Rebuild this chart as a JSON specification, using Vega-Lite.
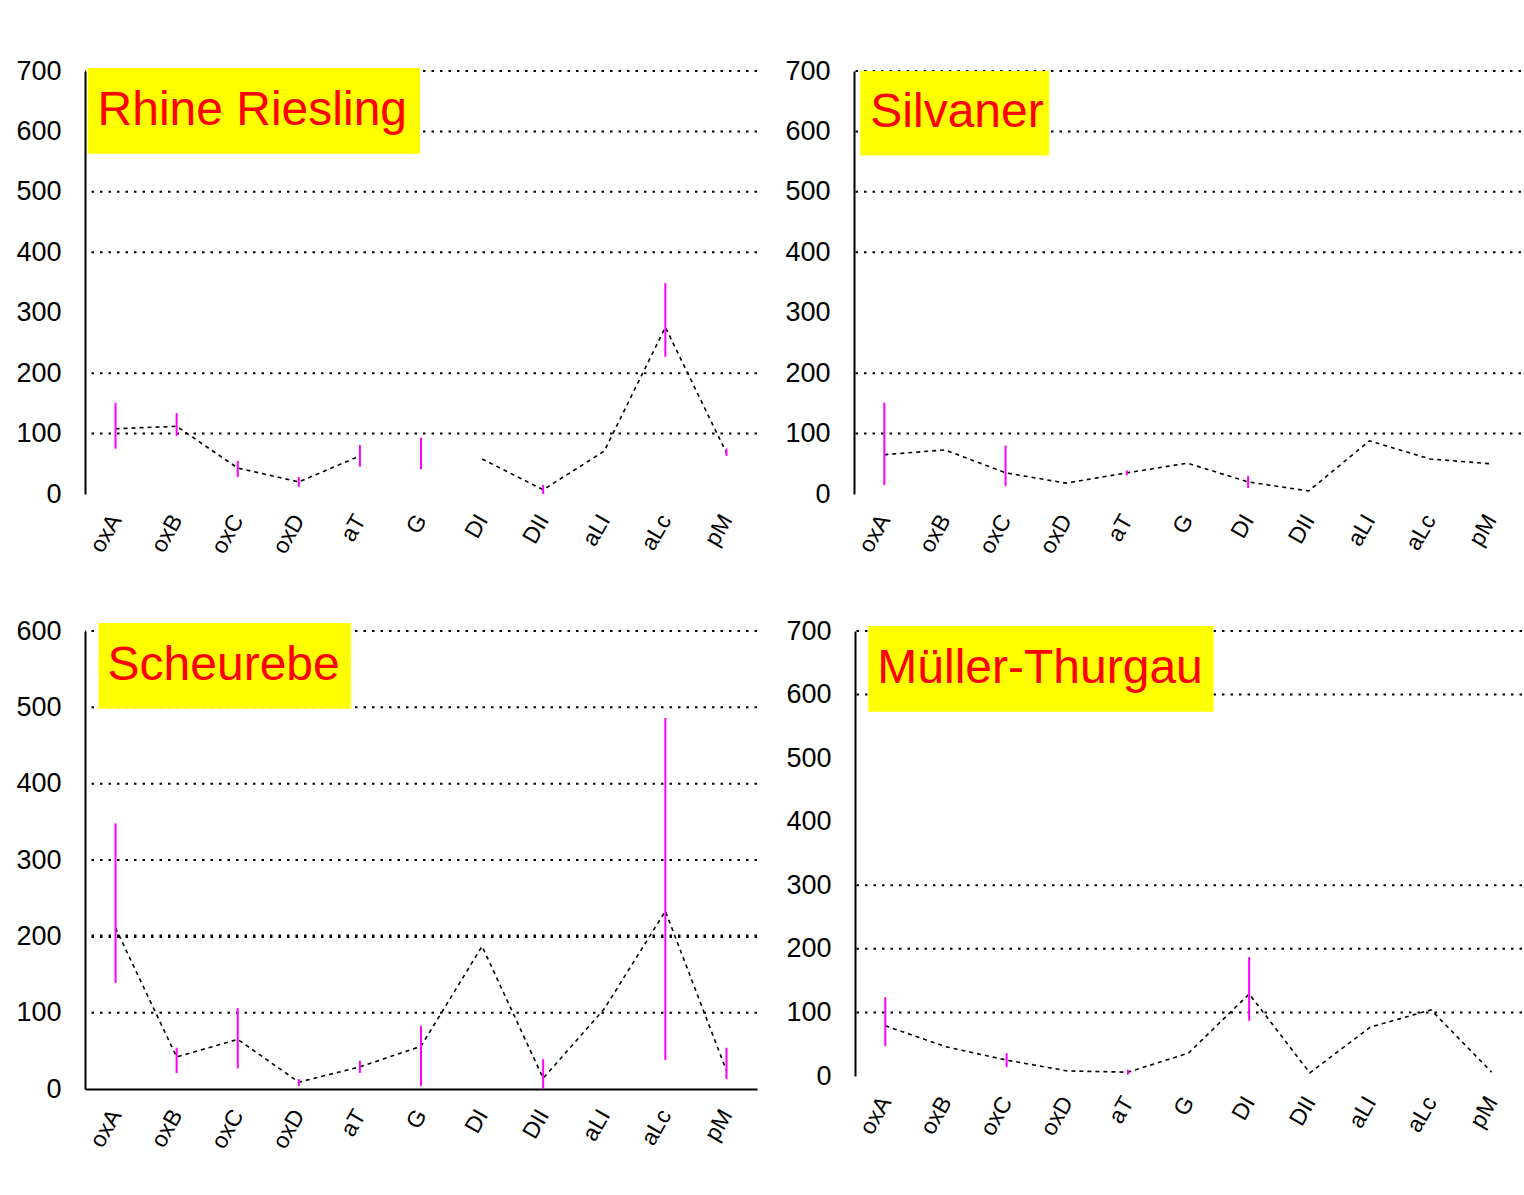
{
  "$schema": "https://vega.github.io/schema/vega-lite/v6.json",
  "background": "white",
  "padding": {"left": 15, "top": 57, "right": 0, "bottom": 0},
  "config": {
    "view": {"stroke": null},
    "font": "Liberation Sans",
    "axis": {"labelFont": "Liberation Sans", "labelColor": "black", "ticks": false, "tickSize": 0, "grid": false, "domainColor": "black", "domainWidth": 2},
    "axisY": {"labelFontSize": 27, "labelPadding": 24},
    "axisX": {"labelFontSize": 23, "labelAngle": -60, "labelPadding": 22, "domain": false}
  },
  "datasets": {
    "wine": [
      {"variety": "Rhine Riesling", "antigen": "oxA", "mean": 108, "lo": 75, "hi": 151},
      {"variety": "Rhine Riesling", "antigen": "oxB", "mean": 112, "lo": 96, "hi": 134},
      {"variety": "Rhine Riesling", "antigen": "oxC", "mean": 43, "lo": 28, "hi": 55},
      {"variety": "Rhine Riesling", "antigen": "oxD", "mean": 20, "lo": 12, "hi": 28},
      {"variety": "Rhine Riesling", "antigen": "aT", "mean": 63, "lo": 45, "hi": 81},
      {"variety": "Rhine Riesling", "antigen": "G", "mean": null, "lo": 41, "hi": 93},
      {"variety": "Rhine Riesling", "antigen": "DI", "mean": 58, "lo": null, "hi": null},
      {"variety": "Rhine Riesling", "antigen": "DII", "mean": 7, "lo": 0, "hi": 15},
      {"variety": "Rhine Riesling", "antigen": "aLI", "mean": 71, "lo": null, "hi": null},
      {"variety": "Rhine Riesling", "antigen": "aLc", "mean": 276, "lo": 227, "hi": 349},
      {"variety": "Rhine Riesling", "antigen": "pM", "mean": 68, "lo": 63, "hi": 75},
      {"variety": "Silvaner", "antigen": "oxA", "mean": 65, "lo": 15, "hi": 151},
      {"variety": "Silvaner", "antigen": "oxB", "mean": 73, "lo": null, "hi": null},
      {"variety": "Silvaner", "antigen": "oxC", "mean": 35, "lo": 13, "hi": 80},
      {"variety": "Silvaner", "antigen": "oxD", "mean": 18, "lo": null, "hi": null},
      {"variety": "Silvaner", "antigen": "aT", "mean": 35, "lo": 31, "hi": 39},
      {"variety": "Silvaner", "antigen": "G", "mean": 51, "lo": null, "hi": null},
      {"variety": "Silvaner", "antigen": "DI", "mean": 20, "lo": 10, "hi": 30},
      {"variety": "Silvaner", "antigen": "DII", "mean": 5, "lo": null, "hi": null},
      {"variety": "Silvaner", "antigen": "aLI", "mean": 88, "lo": null, "hi": null},
      {"variety": "Silvaner", "antigen": "aLc", "mean": 58, "lo": null, "hi": null},
      {"variety": "Silvaner", "antigen": "pM", "mean": 50, "lo": null, "hi": null},
      {"variety": "Scheurebe", "antigen": "oxA", "mean": 211, "lo": 139, "hi": 348},
      {"variety": "Scheurebe", "antigen": "oxB", "mean": 42, "lo": 21, "hi": 54},
      {"variety": "Scheurebe", "antigen": "oxC", "mean": 65, "lo": 27, "hi": 106},
      {"variety": "Scheurebe", "antigen": "oxD", "mean": 9, "lo": 4, "hi": 13},
      {"variety": "Scheurebe", "antigen": "aT", "mean": 29, "lo": 21, "hi": 37},
      {"variety": "Scheurebe", "antigen": "G", "mean": 56, "lo": 4, "hi": 83},
      {"variety": "Scheurebe", "antigen": "DI", "mean": 187, "lo": null, "hi": null},
      {"variety": "Scheurebe", "antigen": "DII", "mean": 14, "lo": 0, "hi": 39},
      {"variety": "Scheurebe", "antigen": "aLI", "mean": 105, "lo": null, "hi": null},
      {"variety": "Scheurebe", "antigen": "aLc", "mean": 233, "lo": 38, "hi": 486},
      {"variety": "Scheurebe", "antigen": "pM", "mean": 24, "lo": 13, "hi": 54},
      {"variety": "Müller-Thurgau", "antigen": "oxA", "mean": 79, "lo": 47, "hi": 124},
      {"variety": "Müller-Thurgau", "antigen": "oxB", "mean": 46, "lo": null, "hi": null},
      {"variety": "Müller-Thurgau", "antigen": "oxC", "mean": 25, "lo": 14, "hi": 36},
      {"variety": "Müller-Thurgau", "antigen": "oxD", "mean": 8, "lo": null, "hi": null},
      {"variety": "Müller-Thurgau", "antigen": "aT", "mean": 6, "lo": 2, "hi": 10},
      {"variety": "Müller-Thurgau", "antigen": "G", "mean": 36, "lo": null, "hi": null},
      {"variety": "Müller-Thurgau", "antigen": "DI", "mean": 129, "lo": 87, "hi": 187},
      {"variety": "Müller-Thurgau", "antigen": "DII", "mean": 5, "lo": null, "hi": null},
      {"variety": "Müller-Thurgau", "antigen": "aLI", "mean": 77, "lo": null, "hi": null},
      {"variety": "Müller-Thurgau", "antigen": "aLc", "mean": 104, "lo": null, "hi": null},
      {"variety": "Müller-Thurgau", "antigen": "pM", "mean": 6, "lo": null, "hi": null}
    ],
    "grid": [
      {"variety": "Rhine Riesling", "level": 100}, {"variety": "Rhine Riesling", "level": 200},
      {"variety": "Rhine Riesling", "level": 400}, {"variety": "Rhine Riesling", "level": 500},
      {"variety": "Rhine Riesling", "level": 600}, {"variety": "Rhine Riesling", "level": 700},
      {"variety": "Silvaner", "level": 100}, {"variety": "Silvaner", "level": 200},
      {"variety": "Silvaner", "level": 400}, {"variety": "Silvaner", "level": 500},
      {"variety": "Silvaner", "level": 600}, {"variety": "Silvaner", "level": 700},
      {"variety": "Scheurebe", "level": 100}, {"variety": "Scheurebe", "level": 200},
      {"variety": "Scheurebe", "level": 300}, {"variety": "Scheurebe", "level": 400},
      {"variety": "Scheurebe", "level": 500}, {"variety": "Scheurebe", "level": 600},
      {"variety": "Müller-Thurgau", "level": 100}, {"variety": "Müller-Thurgau", "level": 200},
      {"variety": "Müller-Thurgau", "level": 300}, {"variety": "Müller-Thurgau", "level": 600},
      {"variety": "Müller-Thurgau", "level": 700}
    ]
  },
  "spacing": 59,
  "vconcat": [
    {
      "spacing": 26,
      "hconcat": [
        {
          "width": 672, "height": 423,
          "layer": [
            {
              "data": {"name": "grid"},
              "transform": [{"filter": "datum.variety == 'Rhine Riesling'"}],
              "mark": {"type": "rule", "color": "black", "strokeWidth": 2, "strokeDash": [2.5, 6]},
              "encoding": {"y": {"field": "level", "type": "quantitative", "title": null, "axis": {"values": [0, 100, 200, 300, 400, 500, 600, 700]}, "scale": {"domain": [0, 700], "nice": false}}}
            },
            {
              "data": {"name": "wine"},
              "transform": [{"filter": "datum.variety == 'Rhine Riesling'"}],
              "mark": {"type": "line", "color": "black", "strokeWidth": 1.6, "strokeDash": [4, 4], "invalid": "break-paths-show-domains"},
              "encoding": {
                "x": {"field": "antigen", "type": "nominal", "title": null, "sort": null, "scale": {"type": "point", "padding": 0.5, "domain": ["oxA", "oxB", "oxC", "oxD", "aT", "G", "DI", "DII", "aLI", "aLc", "pM"]}},
                "y": {"field": "mean", "type": "quantitative", "title": null}
              }
            },
            {
              "data": {"name": "wine"},
              "transform": [{"filter": "datum.variety == 'Rhine Riesling'"}],
              "mark": {"type": "rule", "color": "#ff00ff", "strokeWidth": 2},
              "encoding": {
                "x": {"field": "antigen", "type": "nominal", "title": null, "sort": null},
                "y": {"field": "lo", "type": "quantitative", "title": null},
                "y2": {"field": "hi"}
              }
            },
            {
              "data": {"values": [{"variety": "Rhine Riesling"}]},
              "mark": {"type": "rect", "color": "#ffff00", "xOffset": -28, "x2Offset": -1, "yOffset": -3},
              "encoding": {
                "x": {"datum": "oxA", "type": "nominal"},
                "x2": {"datum": "G"},
                "y": {"datum": 700, "type": "quantitative"},
                "y2": {"datum": 563}
              }
            },
            {
              "data": {"values": [{"variety": "Rhine Riesling"}]},
              "mark": {"type": "text", "color": "#ff0000", "fontSize": 48, "align": "left", "baseline": "middle", "dx": -18, "dy": 40},
              "encoding": {
                "x": {"datum": "oxA", "type": "nominal"},
                "y": {"datum": 700, "type": "quantitative"},
                "text": {"field": "variety"}
              }
            }
          ]
        },
        {
          "width": 667, "height": 423,
          "layer": [
            {
              "data": {"name": "grid"},
              "transform": [{"filter": "datum.variety == 'Silvaner'"}],
              "mark": {"type": "rule", "color": "black", "strokeWidth": 2, "strokeDash": [2.5, 6]},
              "encoding": {"y": {"field": "level", "type": "quantitative", "title": null, "axis": {"values": [0, 100, 200, 300, 400, 500, 600, 700]}, "scale": {"domain": [0, 700], "nice": false}}}
            },
            {
              "data": {"name": "wine"},
              "transform": [{"filter": "datum.variety == 'Silvaner'"}],
              "mark": {"type": "line", "color": "black", "strokeWidth": 1.6, "strokeDash": [4, 4], "invalid": "break-paths-show-domains"},
              "encoding": {
                "x": {"field": "antigen", "type": "nominal", "title": null, "sort": null, "scale": {"type": "point", "padding": 0.5, "domain": ["oxA", "oxB", "oxC", "oxD", "aT", "G", "DI", "DII", "aLI", "aLc", "pM"]}},
                "y": {"field": "mean", "type": "quantitative", "title": null}
              }
            },
            {
              "data": {"name": "wine"},
              "transform": [{"filter": "datum.variety == 'Silvaner'"}],
              "mark": {"type": "rule", "color": "#ff00ff", "strokeWidth": 2},
              "encoding": {
                "x": {"field": "antigen", "type": "nominal", "title": null, "sort": null},
                "y": {"field": "lo", "type": "quantitative", "title": null},
                "y2": {"field": "hi"}
              }
            },
            {
              "data": {"values": [{"variety": "Silvaner"}]},
              "mark": {"type": "rect", "color": "#ffff00", "xOffset": -24, "x2Offset": -17},
              "encoding": {
                "x": {"datum": "oxA", "type": "nominal"},
                "x2": {"datum": "oxD"},
                "y": {"datum": 700, "type": "quantitative"},
                "y2": {"datum": 560}
              }
            },
            {
              "data": {"values": [{"variety": "Silvaner"}]},
              "mark": {"type": "text", "color": "#ff0000", "fontSize": 48, "align": "left", "baseline": "middle", "dx": -14, "dy": 42},
              "encoding": {
                "x": {"datum": "oxA", "type": "nominal"},
                "y": {"datum": 700, "type": "quantitative"},
                "text": {"field": "variety"}
              }
            }
          ]
        }
      ]
    },
    {
      "spacing": 26,
      "hconcat": [
        {
          "width": 672, "height": 458,
          "layer": [
            {
              "data": {"name": "grid"},
              "transform": [{"filter": "datum.variety == 'Scheurebe'"}],
              "mark": {"type": "rule", "color": "black", "strokeDash": [2.5, 6]},
              "encoding": {
                "y": {"field": "level", "type": "quantitative", "title": null, "axis": {"values": [0, 100, 200, 300, 400, 500, 600]}, "scale": {"domain": [0, 600], "nice": false}},
                "strokeWidth": {"condition": {"test": "datum.level == 200", "value": 3.5}, "value": 2}
              }
            },
            {
              "data": {"name": "wine"},
              "transform": [{"filter": "datum.variety == 'Scheurebe'"}],
              "mark": {"type": "line", "color": "black", "strokeWidth": 1.6, "strokeDash": [4, 4], "invalid": "break-paths-show-domains"},
              "encoding": {
                "x": {"field": "antigen", "type": "nominal", "title": null, "sort": null, "axis": {"domain": true}, "scale": {"type": "point", "padding": 0.5, "domain": ["oxA", "oxB", "oxC", "oxD", "aT", "G", "DI", "DII", "aLI", "aLc", "pM"]}},
                "y": {"field": "mean", "type": "quantitative", "title": null}
              }
            },
            {
              "data": {"name": "wine"},
              "transform": [{"filter": "datum.variety == 'Scheurebe'"}],
              "mark": {"type": "rule", "color": "#ff00ff", "strokeWidth": 2},
              "encoding": {
                "x": {"field": "antigen", "type": "nominal", "title": null, "sort": null},
                "y": {"field": "lo", "type": "quantitative", "title": null},
                "y2": {"field": "hi"}
              }
            },
            {
              "data": {"values": [{"variety": "Scheurebe"}]},
              "mark": {"type": "rect", "color": "#ffff00", "xOffset": -17, "x2Offset": -9, "yOffset": -8},
              "encoding": {
                "x": {"datum": "oxA", "type": "nominal"},
                "x2": {"datum": "aT"},
                "y": {"datum": 600, "type": "quantitative"},
                "y2": {"datum": 498}
              }
            },
            {
              "data": {"values": [{"variety": "Scheurebe"}]},
              "mark": {"type": "text", "color": "#ff0000", "fontSize": 48, "align": "left", "baseline": "middle", "dx": -8, "dy": 35},
              "encoding": {
                "x": {"datum": "oxA", "type": "nominal"},
                "y": {"datum": 600, "type": "quantitative"},
                "text": {"field": "variety"}
              }
            }
          ]
        },
        {
          "width": 667, "height": 445,
          "layer": [
            {
              "data": {"name": "grid"},
              "transform": [{"filter": "datum.variety == 'Müller-Thurgau'"}],
              "mark": {"type": "rule", "color": "black", "strokeWidth": 2, "strokeDash": [2.5, 6]},
              "encoding": {"y": {"field": "level", "type": "quantitative", "title": null, "axis": {"values": [0, 100, 200, 300, 400, 500, 600, 700]}, "scale": {"domain": [0, 700], "nice": false}}}
            },
            {
              "data": {"name": "wine"},
              "transform": [{"filter": "datum.variety == 'Müller-Thurgau'"}],
              "mark": {"type": "line", "color": "black", "strokeWidth": 1.6, "strokeDash": [4, 4], "invalid": "break-paths-show-domains"},
              "encoding": {
                "x": {"field": "antigen", "type": "nominal", "title": null, "sort": null, "scale": {"type": "point", "padding": 0.5, "domain": ["oxA", "oxB", "oxC", "oxD", "aT", "G", "DI", "DII", "aLI", "aLc", "pM"]}},
                "y": {"field": "mean", "type": "quantitative", "title": null}
              }
            },
            {
              "data": {"name": "wine"},
              "transform": [{"filter": "datum.variety == 'Müller-Thurgau'"}],
              "mark": {"type": "rule", "color": "#ff00ff", "strokeWidth": 2},
              "encoding": {
                "x": {"field": "antigen", "type": "nominal", "title": null, "sort": null},
                "y": {"field": "lo", "type": "quantitative", "title": null},
                "y2": {"field": "hi"}
              }
            },
            {
              "data": {"values": [{"variety": "Müller-Thurgau"}]},
              "mark": {"type": "rect", "color": "#ffff00", "xOffset": -17, "x2Offset": 25, "yOffset": -5},
              "encoding": {
                "x": {"datum": "oxA", "type": "nominal"},
                "x2": {"datum": "G"},
                "y": {"datum": 700, "type": "quantitative"},
                "y2": {"datum": 573}
              }
            },
            {
              "data": {"values": [{"variety": "Müller-Thurgau"}]},
              "mark": {"type": "text", "color": "#ff0000", "fontSize": 48, "align": "left", "baseline": "middle", "dx": -8, "dy": 38},
              "encoding": {
                "x": {"datum": "oxA", "type": "nominal"},
                "y": {"datum": 700, "type": "quantitative"},
                "text": {"field": "variety"}
              }
            }
          ]
        }
      ]
    }
  ]
}
